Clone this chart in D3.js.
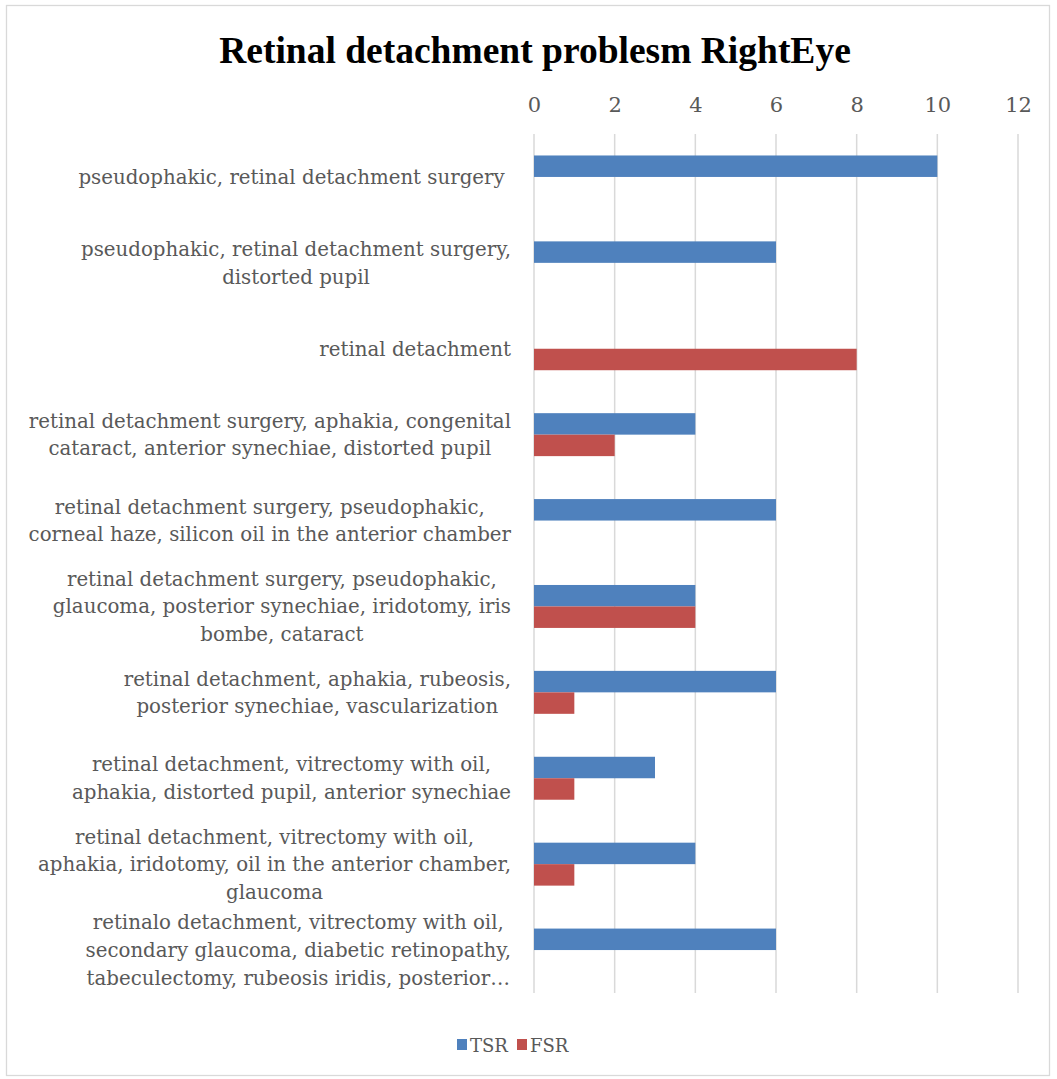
<!DOCTYPE html>
<html><head><meta charset="utf-8">
<script src="https://cdn.jsdelivr.net/npm/d3@7"></script>
<style>body{margin:0;background:#fff}svg{display:block}</style>
</head><body>
<svg id="chart" width="1057" height="1079"></svg>
<script>
const title = "Retinal detachment problesm RightEye";
const categories = [
  ["pseudophakic, retinal detachment surgery "],
  ["pseudophakic, retinal detachment surgery,", "distorted pupil"],
  ["retinal detachment"],
  ["retinal detachment surgery, aphakia, congenital", "cataract, anterior synechiae, distorted pupil"],
  ["retinal detachment surgery, pseudophakic,", "corneal haze, silicon oil in the anterior chamber"],
  ["retinal detachment surgery, pseudophakic,", "glaucoma, posterior synechiae, iridotomy, iris", "bombe, cataract"],
  ["retinal detachment, aphakia, rubeosis,", "posterior synechiae, vascularization"],
  ["retinal detachment, vitrectomy with oil,", "aphakia, distorted pupil, anterior synechiae"],
  ["retinal detachment, vitrectomy with oil,", "aphakia, iridotomy, oil in the anterior chamber,", "glaucoma"],
  ["retinalo detachment, vitrectomy with oil,", "secondary glaucoma, diabetic retinopathy,", "tabeculectomy, rubeosis iridis, posterior\u2026"]
];
const seriesNames = ["TSR", "FSR"];
const tsr = [10, 6, 0, 4, 6, 4, 6, 3, 4, 6];
const fsr = [0, 0, 8, 2, 0, 4, 1, 1, 1, 0];
const tickValues = [0, 2, 4, 6, 8, 10, 12];
const colors = ["#4F81BD", "#C0504D"];

const svg = d3.select("#chart");
const labelFont = "'DejaVu Serif', serif";
const textColor = "#595959";

// frame
svg.append("rect").attr("x", 6.5).attr("y", 5.5).attr("width", 1043).attr("height", 1070)
  .attr("fill", "#fff").attr("stroke", "#d9d9d9").attr("stroke-width", 1.3);

svg.append("text").attr("x", 535).attr("y", 63).attr("text-anchor", "middle")
  .style("font-family", "'Liberation Serif', serif").style("font-weight", "bold")
  .style("font-size", "37.5px").attr("fill", "#000").text(title);

const ids = d3.range(categories.length);
const x = d3.scaleLinear().domain([0, 12]).range([534, 1018]);
const y = d3.scaleBand().domain(ids).range([134, 993]).paddingInner(0.5).paddingOuter(0.25);
const ys = d3.scaleBand().domain(seriesNames).range([0, y.bandwidth()]);

// gridlines
svg.append("g").selectAll("line").data(tickValues).join("line")
  .attr("x1", d => x(d)).attr("x2", d => x(d)).attr("y1", 134).attr("y2", 993)
  .attr("stroke", "#d9d9d9").attr("stroke-width", 1.5);

// top axis labels
const axis = d3.axisTop(x).tickValues(tickValues).tickSize(0).tickPadding(0);
const ag = svg.append("g").attr("transform", "translate(0,112)").call(axis);
ag.select(".domain").remove();
ag.selectAll("text").style("font-family", labelFont).style("font-size", "21px").attr("fill", textColor);

// bars
const data = [tsr, fsr];
data.forEach((vals, si) => {
  svg.append("g").selectAll("rect").data(vals).join("rect")
    .attr("x", x(0)).attr("y", (d, i) => y(i) + ys(seriesNames[si]))
    .attr("width", d => x(d) - x(0)).attr("height", ys.bandwidth())
    .attr("fill", colors[si]);
});

// category labels
const lineH = 27.6;
const lg = svg.append("g").style("font-family", labelFont).style("font-size", "19.8px").attr("fill", textColor);
categories.forEach((lines, i) => {
  const cy = y(i) + y.bandwidth() / 2;
  const t = lg.append("text").attr("text-anchor", "middle").attr("dominant-baseline", "central")
    .style("white-space", "pre");
  const spans = lines.map((s, k) => t.append("tspan").attr("y", cy + (k - (lines.length - 1) / 2) * lineH).text(s));
  const maxW = d3.max(spans, s => s.node().getComputedTextLength());
  const cx = 511 - maxW / 2;
  spans.forEach(s => s.attr("x", cx));
});

// legend
const leg = svg.append("g");
const legX = [457, 517];
seriesNames.forEach((n, i) => {
  leg.append("rect").attr("x", legX[i]).attr("y", 1039).attr("width", 10).attr("height", 11).attr("fill", colors[i]);
  leg.append("text").attr("x", legX[i] + 13).attr("y", 1045).attr("dominant-baseline", "central")
    .style("font-family", labelFont).style("font-size", "18px").attr("fill", textColor).text(n);
});
</script>
</body></html>
